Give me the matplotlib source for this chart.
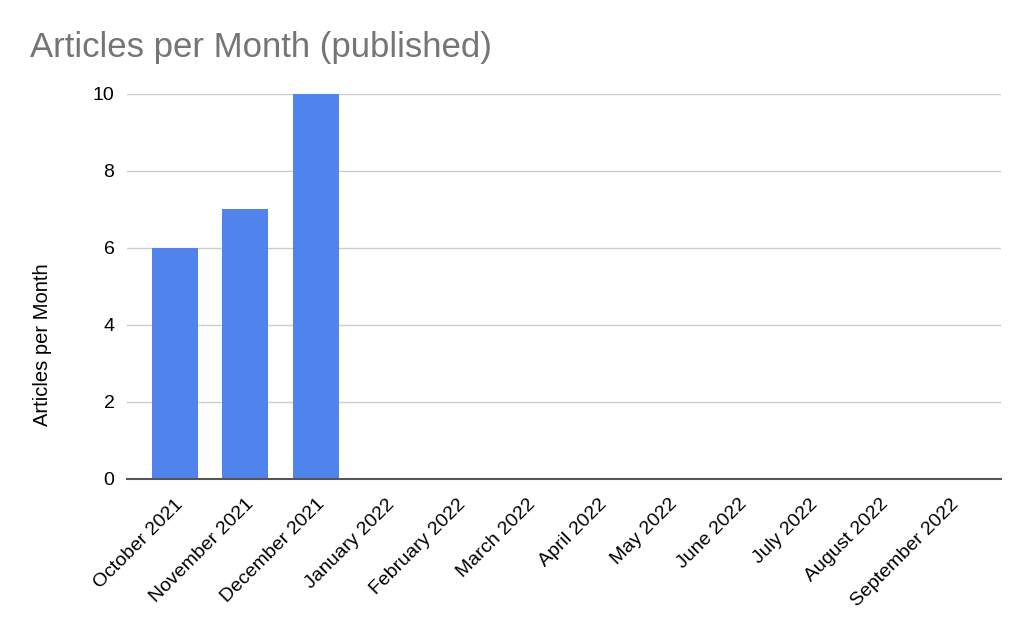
import matplotlib
matplotlib.use("Agg")
import matplotlib.pyplot as plt

months = ["October 2021", "November 2021", "December 2021", "January 2022",
          "February 2022", "March 2022", "April 2022", "May 2022", "June 2022",
          "July 2022", "August 2022", "September 2022"]
articles = [6, 7, 10, 0, 0, 0, 0, 0, 0, 0, 0, 0]
yticks = [0, 2, 4, 6, 8, 10]

plt.rcParams['font.family'] = ['Liberation Sans', 'DejaVu Sans']

fig = plt.figure(figsize=(10.24, 6.3), dpi=100)
ax = fig.add_axes([0.124, 0.2397, 0.8535, 0.6111])

x = list(range(len(months)))
ax.bar(x, articles, width=0.65, color="#5083EC", zorder=3)

ax.set_xlim(-0.68, 11.72)
ax.set_ylim(0, 10)
ax.set_yticks(yticks)
ax.set_yticklabels([str(v) for v in yticks], fontsize=14)
ax.set_xticks(x)
ax.set_xticklabels(months, rotation=45, ha='right', rotation_mode='anchor', fontsize=14)
ax.tick_params(axis='both', length=0, pad=9)
ax.tick_params(axis='x', pad=12)

ax.grid(axis='y', color='#cccccc', linewidth=1, zorder=0)
for s in ['top', 'right', 'left']:
    ax.spines[s].set_visible(False)
ax.spines['bottom'].set_color('#555555')
ax.spines['bottom'].set_linewidth(1.5)
ax.spines['bottom'].set_zorder(4)

ax.set_ylabel("Articles per Month", fontsize=14.5)
ax.yaxis.set_label_coords(-0.086, 0.348)

fig.text(0.029, 0.925, "Articles per Month (published)", fontsize=25, color='#757575',
         ha='left', va='center')

fig.savefig("out.png", dpi=100, facecolor='white')
